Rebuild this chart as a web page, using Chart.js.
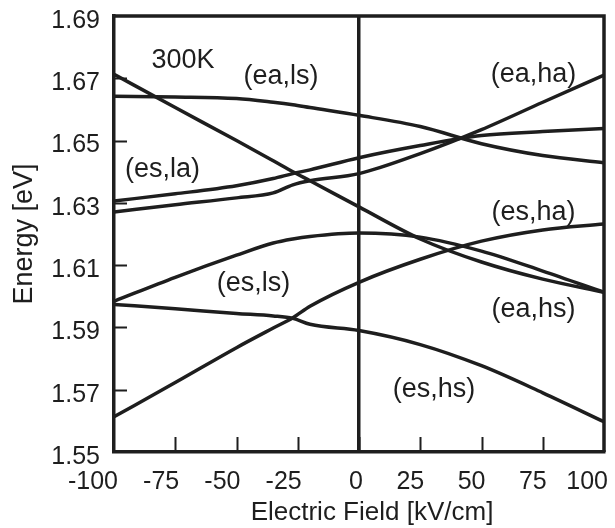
<!DOCTYPE html>
<html>
<head>
<meta charset="utf-8">
<script src="https://cdn.jsdelivr.net/npm/chart.js@4.4.1/dist/chart.umd.min.js"></script>
<style>
  html, body { margin: 0; padding: 0; background: #fff; }
  canvas { display: block; }
</style>
</head>
<body>
<canvas id="myChart" width="615" height="528"></canvas>
<script>
// electric field samples (kV/cm), extra points near the anticrossing at ~ -27
const fieldKV = [-100, -75, -50, -35, -27, -20, 0, 25, 50, 75, 100];

// energies in eV, one array per curve
const diagEaHs  = [1.6713, 1.6606, 1.6500, 1.6435, 1.6400, 1.6371, 1.6287, 1.6184, 1.6110, 1.6055, 1.6013];
const flatEaLs  = [1.6642, 1.6640, 1.6635, 1.6623, 1.6615, 1.6606, 1.6581, 1.6545, 1.6490, 1.6452, 1.6429];
const upperEsLa = [1.6306, 1.6329, 1.6355, 1.6378, 1.6394, 1.6406, 1.6445, 1.6484, 1.6516, 1.6529, 1.6539];
const lowerEsLa = [1.6271, 1.6294, 1.6316, 1.6332, 1.6358, 1.6371, 1.6394, 1.6458, 1.6535, 1.6623, 1.6710];
const peakEsLs  = [1.5984, 1.6061, 1.6132, 1.6171, 1.6184, 1.6192, 1.6203, 1.6190, 1.6145, 1.6081, 1.6013];
const fallEsHs  = [1.5974, 1.5960, 1.5945, 1.5937, 1.5929, 1.5910, 1.5890, 1.5845, 1.5777, 1.5690, 1.5597];
const riseEsHa  = [1.5613, 1.5723, 1.5835, 1.5898, 1.5931, 1.5968, 1.6045, 1.6119, 1.6177, 1.6213, 1.6232];

const xTicks = [-100, -75, -50, -25, 0, 25, 50, 75, 100];
const yTicks = [1.55, 1.57, 1.59, 1.61, 1.63, 1.65, 1.67, 1.69];

// text labels inside the plot (data coords)
const noteText = ['300K', '(ea,ls)', '(es,la)', '(ea,ha)', '(es,ha)', '(es,ls)', '(ea,hs)', '(es,hs)'];
const noteX    = [-71.8, -31.8, -80.2, 71.2, 71.2, -43.1, 71.2, 30.6];
const noteY    = [1.6756, 1.6705, 1.6408, 1.6711, 1.6268, 1.6040, 1.5956, 1.5702];

const xTitle = 'Electric Field [kV/cm]';

const ink = '#1e1e1e';
const fam = "'Liberation Sans', Arial, Helvetica, sans-serif";

const curves = [diagEaHs, flatEaLs, upperEsLa, lowerEsLa, peakEsLs, fallEsHs, riseEsHa];

const datasets = curves.map((vals, k) => ({
    label: 'c' + k,
    data: fieldKV.map((x, i) => ({ x: x, y: vals[i] })),
    borderColor: ink,
    borderWidth: 3.5,
    pointRadius: 0,
    fill: false,
    cubicInterpolationMode: 'monotone'
}));

// frame top/right, inward tick marks, x title and the text notes
const extras = {
    id: 'extras',
    afterDatasetsDraw(chart) {
        const c = chart.ctx;
        const a = chart.chartArea;
        const sx = chart.scales.x, sy = chart.scales.y;
        c.save();
        c.strokeStyle = ink;
        c.lineWidth = 3.5;
        c.beginPath();
        c.moveTo(a.left, a.top);
        c.lineTo(a.right, a.top);
        c.lineTo(a.right, a.bottom);
        c.stroke();

        c.lineWidth = 2;
        c.beginPath();
        xTicks.slice(1, -1).forEach(v => {
            const px = Math.round(sx.getPixelForValue(v)) + 0.5;
            c.moveTo(px, a.bottom);
            c.lineTo(px, a.bottom - 15);
        });
        yTicks.slice(1, -1).forEach(v => {
            const py = Math.round(sy.getPixelForValue(v)) + 0.5;
            c.moveTo(a.left, py);
            c.lineTo(a.left + 13, py);
        });
        c.stroke();

        c.fillStyle = ink;
        c.textAlign = 'center';
        c.textBaseline = 'middle';
        c.font = '27px ' + fam;
        noteText.forEach((t, i) => {
            c.fillText(t, sx.getPixelForValue(noteX[i]), sy.getPixelForValue(noteY[i]));
        });

        c.font = '26px ' + fam;
        c.fillText(xTitle, (a.left + a.right) / 2 + 13, 513);
        c.restore();
    }
};

const chart = new Chart(document.getElementById('myChart'), {
    type: 'line',
    data: { datasets: datasets },
    options: {
        responsive: false,
        animation: false,
        layout: { padding: { top: 16, right: 11, left: 0, bottom: 0 } },
        plugins: {
            legend: { display: false },
            tooltip: { enabled: false }
        },
        scales: {
            x: {
                type: 'linear',
                min: -100,
                max: 100,
                afterBuildTicks: s => { s.ticks = xTicks.map(v => ({ value: v })); },
                afterFit: s => { s.height = 76; s.paddingLeft = 0; s.paddingRight = 0; },
                grid: {
                    drawTicks: false,
                    lineWidth: 3.5,
                    color: ctx => (ctx.tick && ctx.tick.value === 0) ? ink : 'rgba(0,0,0,0)'
                },
                border: { color: ink, width: 3.5 },
                ticks: {
                    color: ink,
                    font: { family: fam, size: 25 },
                    padding: 15,
                    align: 'end',
                    labelOffset: 4,
                    maxRotation: 0,
                    autoSkip: false,
                    callback: v => String(v)
                }
            },
            y: {
                type: 'linear',
                min: 1.55,
                max: 1.69,
                afterBuildTicks: s => { s.ticks = yTicks.map(v => ({ value: v })); },
                afterFit: s => { s.width = 114; s.paddingTop = 0; s.paddingBottom = 0; },
                grid: { display: false, drawTicks: false, drawOnChartArea: false },
                border: { color: ink, width: 3.5 },
                ticks: {
                    color: ink,
                    font: { family: fam, size: 25 },
                    padding: 14,
                    labelOffset: 5,
                    autoSkip: false,
                    callback: v => v.toFixed(2)
                },
                title: {
                    display: true,
                    text: 'Energy [eV]',
                    color: ink,
                    font: { family: fam, size: 27 },
                    padding: { top: 8, bottom: 0 }
                }
            }
        }
    },
    plugins: [extras]
});
</script>
</body>
</html>
